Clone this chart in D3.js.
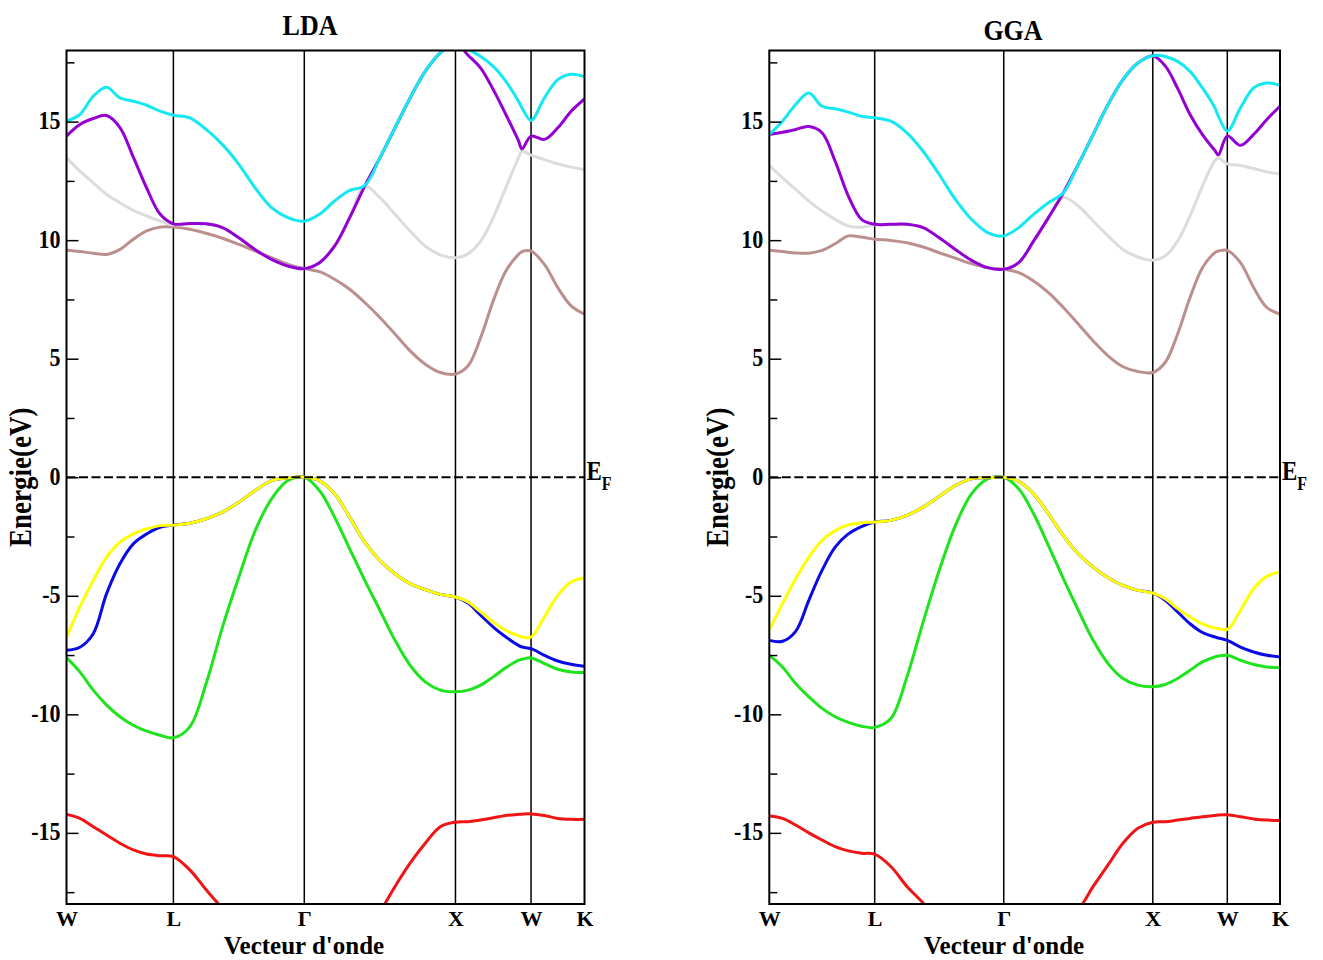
<!DOCTYPE html>
<html>
<head>
<meta charset="utf-8">
<script src="https://cdn.jsdelivr.net/npm/d3@7"></script>
<style>
body { margin: 0; background: #fff; }
svg text { font-family: "Liberation Serif", "Times New Roman", serif; font-weight: bold; fill: #000; }
</style>
</head>
<body>
<div id="chart"></div>
<script>
const width = 1323;
const height = 960;

// high symmetry points, cumulative path length
const symLabels = ['W', 'L', 'Γ', 'X', 'W', 'K'];
const symK = [0, 0.7071, 1.5731, 2.5731, 3.0731, 3.4267];

// sampled k positions along W-L-Γ-X-W-K
const kPath = [
  0, 0.0884, 0.1768, 0.2652, 0.3536, 0.4419, 0.5303, 0.6187, 0.7071,
  0.8154, 0.9236, 1.0319, 1.1401, 1.2484, 1.3566, 1.4649, 1.5731,
  1.6731, 1.7731, 1.8731, 1.9731, 2.0731, 2.1731, 2.2731, 2.3731, 2.4731, 2.5731,
  2.6564, 2.7398, 2.8231, 2.9064, 2.9898, 3.0131, 3.0731,
  3.1615, 3.2499, 3.3383, 3.4267
];

// LDA bands (eV)
const ldaRed = [-14.22, -14.39, -14.74, -15.09, -15.44, -15.72, -15.89, -15.96, -16.0,
  -16.56, -17.4, -18.2, -19.0, -19.8, -20.6, -21.2, -21.4,
  -21.2, -20.6, -19.7, -18.9, -18.3, -17.26, -16.28, -15.44, -14.74, -14.55,
  -14.53, -14.46, -14.36, -14.27, -14.22, -14.21, -14.2,
  -14.27, -14.39, -14.43, -14.43];
const ldaGreen = [-7.61, -8.21, -8.98, -9.61, -10.1, -10.46, -10.71, -10.88, -10.99,
  -10.53, -8.7, -6.32, -4.21, -2.25, -0.91, -0.14, 0,
  -0.56, -1.68, -3.02, -4.35, -5.61, -6.88, -7.93, -8.63, -8.98, -9.05,
  -8.98, -8.77, -8.42, -8.03, -7.72, -7.68, -7.62,
  -7.86, -8.1, -8.21, -8.24];
const ldaBlue = [-7.3, -7.17, -6.6, -4.91, -3.65, -2.81, -2.39, -2.11, -2.02,
  -1.94, -1.75, -1.47, -1.05, -0.56, -0.14, -0.03, 0,
  -0.14, -0.7, -1.68, -2.74, -3.51, -4.07, -4.49, -4.74, -4.94, -5.05,
  -5.31, -5.82, -6.32, -6.74, -7.09, -7.16, -7.23,
  -7.51, -7.75, -7.89, -7.97];
const ldaYellow = [-6.74, -5.47, -4.35, -3.37, -2.74, -2.39, -2.18, -2.04, -2.02,
  -1.94, -1.75, -1.47, -1.05, -0.56, -0.14, -0.03, 0,
  -0.14, -0.7, -1.68, -2.74, -3.51, -4.07, -4.49, -4.74, -4.94, -5.05,
  -5.26, -5.68, -6.11, -6.46, -6.69, -6.74, -6.74,
  -5.89, -4.98, -4.42, -4.24];
const ldaBrown = [9.57, 9.52, 9.45, 9.4, 9.61, 10.04, 10.39, 10.55, 10.55,
  10.46, 10.29, 10.08, 9.82, 9.54, 9.26, 8.98, 8.8,
  8.67, 8.35, 7.93, 7.37, 6.74, 6.04, 5.33, 4.77, 4.42, 4.35,
  4.7, 5.89, 7.44, 8.7, 9.4, 9.52, 9.54,
  8.98, 8.0, 7.23, 6.88];
const ldaGrey = [13.47, 12.91, 12.42, 11.93, 11.58, 11.26, 11.02, 10.81, 10.65,
  10.7, 10.69, 10.53, 10.1, 9.6, 9.19, 8.91, 8.8,
  9.05, 9.75, 10.95, 12.28, 11.79, 11.09, 10.39, 9.75, 9.38, 9.26,
  9.43, 9.96, 10.95, 12.21, 13.47, 13.75, 13.59,
  13.4, 13.22, 13.08, 12.98];
const ldaViolet = [14.39, 14.88, 15.13, 15.26, 14.75, 13.5, 12.2, 11.1, 10.69,
  10.7, 10.69, 10.53, 10.1, 9.6, 9.19, 8.91, 8.8,
  9.05, 9.75, 10.95, 12.28, 13.47, 14.74, 16.0, 17.12, 17.9, 18.3,
  17.8, 17.26, 16.35, 15.3, 14.2, 13.85, 14.39,
  14.25, 14.74, 15.44, 15.96];
const ldaCyan = [15.02, 15.3, 16.07, 16.45, 16.0, 15.86, 15.69, 15.44, 15.27,
  15.16, 14.67, 14.03, 13.2, 12.2, 11.37, 10.95, 10.8,
  11.09, 11.65, 12.1, 12.3, 13.47, 14.74, 16.0, 17.12, 17.9, 18.3,
  18.05, 17.75, 17.33, 16.7, 15.86, 15.58, 15.05,
  16.0, 16.77, 17.0, 16.9];

// GGA bands (eV)
const ggaRed = [-14.29, -14.39, -14.67, -15.0, -15.3, -15.58, -15.76, -15.86, -15.9,
  -16.42, -17.26, -17.96, -18.8, -19.6, -20.2, -20.5, -20.6,
  -20.4, -19.9, -19.2, -18.5, -18.2, -17.26, -16.35, -15.44, -14.81, -14.55,
  -14.53, -14.46, -14.39, -14.32, -14.27, -14.25, -14.24,
  -14.32, -14.41, -14.46, -14.48];
const ggaGreen = [-7.51, -8.0, -8.7, -9.26, -9.75, -10.1, -10.34, -10.5, -10.55,
  -10.18, -8.42, -6.11, -3.93, -2.04, -0.7, -0.07, 0,
  -0.49, -1.54, -2.88, -4.28, -5.61, -6.88, -7.86, -8.49, -8.77, -8.84,
  -8.74, -8.49, -8.14, -7.79, -7.58, -7.54, -7.51,
  -7.72, -7.9, -8.0, -8.04];
const ggaBlue = [-6.88, -6.92, -6.5, -5.19, -3.93, -2.95, -2.39, -2.08, -1.89,
  -1.82, -1.61, -1.26, -0.81, -0.35, -0.07, -0.02, 0,
  -0.17, -0.7, -1.54, -2.46, -3.23, -3.79, -4.24, -4.56, -4.77, -4.88,
  -5.19, -5.68, -6.18, -6.55, -6.74, -6.78, -6.88,
  -7.16, -7.37, -7.51, -7.58];
const ggaYellow = [-6.43, -5.33, -4.28, -3.37, -2.67, -2.25, -2.01, -1.92, -1.89,
  -1.82, -1.61, -1.26, -0.81, -0.35, -0.07, -0.02, 0,
  -0.17, -0.7, -1.54, -2.46, -3.23, -3.79, -4.24, -4.56, -4.77, -4.88,
  -5.12, -5.54, -5.89, -6.18, -6.36, -6.38, -6.42,
  -5.61, -4.7, -4.18, -4.0];
const ggaBrown = [9.57, 9.52, 9.46, 9.45, 9.57, 9.85, 10.18, 10.13, 10.04,
  9.99, 9.89, 9.71, 9.47, 9.24, 9.01, 8.84, 8.77,
  8.63, 8.28, 7.79, 7.16, 6.46, 5.75, 5.12, 4.66, 4.46, 4.42,
  4.84, 6.04, 7.58, 8.84, 9.47, 9.54, 9.57,
  9.05, 8.0, 7.16, 6.88];
const ggaGrey = [13.16, 12.63, 12.14, 11.65, 11.23, 10.88, 10.6, 10.55, 10.64,
  10.67, 10.67, 10.53, 10.1, 9.61, 9.15, 8.84, 8.77,
  9.05, 9.96, 10.95, 11.8, 11.44, 10.81, 10.18, 9.61, 9.29, 9.15,
  9.33, 9.96, 11.02, 12.28, 13.36, 13.47, 13.22,
  13.15, 13.02, 12.88, 12.8];
const ggaViolet = [14.46, 14.55, 14.67, 14.79, 14.53, 13.33, 11.86, 10.88, 10.67,
  10.67, 10.67, 10.53, 10.1, 9.61, 9.15, 8.84, 8.77,
  9.05, 9.96, 10.95, 12.0, 13.19, 14.46, 15.72, 16.77, 17.47, 17.78,
  17.35, 16.4, 15.3, 14.45, 13.78, 13.6, 14.39,
  14.0, 14.46, 15.09, 15.65];
const ggaCyan = [14.46, 15.02, 15.72, 16.21, 15.65, 15.54, 15.4, 15.23, 15.16,
  15.02, 14.53, 13.75, 12.77, 11.72, 10.88, 10.32, 10.18,
  10.53, 11.09, 11.58, 12.0, 13.19, 14.46, 15.72, 16.77, 17.47, 17.78,
  17.75, 17.54, 17.12, 16.42, 15.58, 15.23, 14.6,
  15.58, 16.42, 16.63, 16.53];

const bandColors = ['#f01414', '#1ee41e', '#0a0ae6', '#ffff00', '#bc8f8f', '#dcdcdc', '#9400d3', '#14e8f0'];
const yMajor = [-15, -10, -5, 0, 5, 10, 15];
const yMinor = [-17.5, -12.5, -7.5, -2.5, 2.5, 7.5, 12.5, 17.5];

const stretch = 'scale(1,1.15)'; // the original lettering is a little tall

const svg = d3.select('#chart').append('svg').attr('width', width).attr('height', height);

function drawPanel(p) {
  const x = d3.scaleLinear().domain([0, symK[symK.length - 1]]).range([p.left, p.right]);
  const y = d3.scaleLinear().domain([-18, 18]).range([904, 50.5]);
  const g = svg.append('g');

  g.append('clipPath').attr('id', 'clip-' + p.id)
    .append('rect')
    .attr('x', p.left).attr('y', y(18))
    .attr('width', p.right - p.left).attr('height', y(-18) - y(18));

  // vertical lines at high symmetry points
  g.selectAll('.sym')
    .data(symK.slice(1, -1))
    .enter()
    .append('line')
    .attr('x1', d => x(d)).attr('x2', d => x(d))
    .attr('y1', y(18)).attr('y2', y(-18))
    .attr('stroke', '#000').attr('stroke-width', 1.5);

  const line = d3.line()
    .x((d, i) => x(kPath[i]))
    .y(d => y(d))
    .curve(d3.curveCatmullRom.alpha(0.5));

  g.append('g').attr('clip-path', `url(#clip-${p.id})`)
    .selectAll('path')
    .data(p.bands)
    .enter()
    .append('path')
    .attr('d', d => line(d))
    .attr('fill', 'none')
    .attr('stroke', (d, i) => bandColors[i])
    .attr('stroke-width', 3)
    .attr('stroke-linejoin', 'round');

  // Fermi level
  g.append('line')
    .attr('x1', p.left).attr('x2', p.right)
    .attr('y1', y(0)).attr('y2', y(0))
    .attr('stroke', '#000').attr('stroke-width', 2.2)
    .attr('stroke-dasharray', '9,3.5');

  // frame
  g.append('rect')
    .attr('x', p.left).attr('y', y(18))
    .attr('width', p.right - p.left).attr('height', y(-18) - y(18))
    .attr('fill', 'none').attr('stroke', '#000').attr('stroke-width', 2);

  // y axis, ticks pointing inward
  const yAxis = g.append('g')
    .attr('transform', `translate(${p.left},0)`)
    .call(d3.axisLeft(y).tickValues(yMajor).tickSize(-12).tickPadding(6).tickFormat(d => String(d)));
  yAxis.select('.domain').remove();
  yAxis.selectAll('line').attr('stroke-width', 1.5);
  yAxis.selectAll('text')
    .attr('font-size', 22).attr('font-family', null)
    .attr('dy', '0.28em')
    .attr('transform', stretch);

  const yMinorAxis = g.append('g')
    .attr('transform', `translate(${p.left},0)`)
    .call(d3.axisLeft(y).tickValues(yMinor).tickSize(-8).tickFormat(''));
  yMinorAxis.select('.domain').remove();
  yMinorAxis.selectAll('line').attr('stroke-width', 1.5);

  // k point labels
  const xAxis = g.append('g')
    .attr('transform', `translate(0,${y(-18)})`)
    .call(d3.axisBottom(x).tickValues(symK).tickSize(0).tickPadding(6.5).tickFormat((d, i) => symLabels[i]));
  xAxis.select('.domain').remove();
  xAxis.selectAll('text')
    .attr('font-size', 22).attr('font-family', null);

  g.append('text')
    .attr('transform', `translate(${p.titleX},${p.titleY}) ${stretch}`)
    .attr('text-anchor', 'middle')
    .attr('font-size', 26)
    .text(p.title);

  g.append('text')
    .attr('x', p.xLabelX).attr('y', p.xLabelY)
    .attr('text-anchor', 'middle')
    .attr('font-size', 25)
    .text("Vecteur d'onde");

  g.append('text')
    .attr('transform', `translate(${p.yLabelX},${y(0)}) rotate(-90) ${stretch}`)
    .attr('text-anchor', 'middle')
    .attr('font-size', 27)
    .text('Energie(eV)');

  const ef = g.append('text')
    .attr('transform', `translate(${p.right + 2},${y(0) + 3}) scale(1,1.2)`)
    .attr('font-size', 23);
  ef.append('tspan').text('E');
  ef.append('tspan').attr('font-size', 16).attr('dy', 8).text('F');
}

drawPanel({
  id: 'lda', title: 'LDA', left: 66.5, right: 584.5,
  titleX: 310, titleY: 35, xLabelX: 304, xLabelY: 954, yLabelX: 31,
  bands: [ldaRed, ldaGreen, ldaBlue, ldaYellow, ldaBrown, ldaGrey, ldaViolet, ldaCyan]
});

drawPanel({
  id: 'gga', title: 'GGA', left: 769.3, right: 1280,
  titleX: 1013, titleY: 40, xLabelX: 1004, xLabelY: 954, yLabelX: 728,
  bands: [ggaRed, ggaGreen, ggaBlue, ggaYellow, ggaBrown, ggaGrey, ggaViolet, ggaCyan]
});
</script>
</body>
</html>
